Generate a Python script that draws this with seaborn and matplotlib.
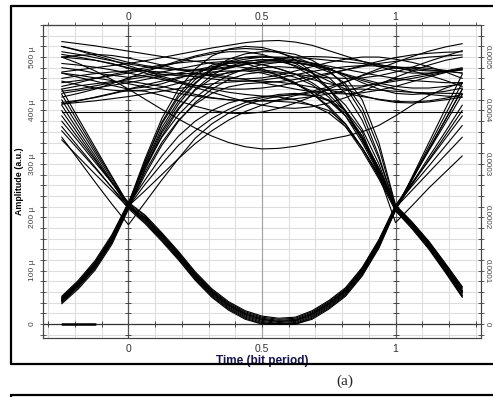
import numpy as np
import pandas as pd
import matplotlib
matplotlib.use("Agg")
import matplotlib.pyplot as plt
import seaborn as sns
from matplotlib.lines import Line2D

# sample times (bit periods), one value every 1/16 bit, shared by every trace
time_bits = [-0.25, -0.1875, -0.125, -0.0625, 0, 0.0625, 0.125, 0.1875, 0.25,
             0.3125, 0.375, 0.4375, 0.5, 0.5625, 0.625, 0.6875, 0.75, 0.8125,
             0.875, 0.9375, 1, 1.0625, 1.125, 1.1875, 1.25]

# amplitudes in micro a.u.
# 1 -> 0 -> 1 (lower half of the eye)
low_eye = [
    [440, 385, 331, 277, 224, 198, 165, 130, 92, 60, 36, 19, 9, 5, 7, 19, 38, 62, 100, 152, 219, 272, 325, 377, 430],
    [420, 370, 321, 271, 222, 194, 161, 126, 88, 56, 32, 15, 5, 1, 3, 15, 34, 58, 96, 148, 216, 262, 308, 354, 400],
    [400, 355, 310, 265, 220, 200, 167, 132, 94, 62, 38, 21, 11, 7, 9, 21, 40, 64, 102, 154, 214, 274, 333, 393, 452],
    [380, 342, 303, 265, 226, 202, 169, 134, 96, 64, 40, 23, 13, 9, 11, 23, 42, 66, 104, 156, 221, 259, 296, 334, 372],
    [362, 327, 292, 256, 221, 192, 159, 124, 86, 54, 30, 13, 3, 0, 1, 13, 32, 56, 94, 146, 217, 273, 328, 384, 440],
    [345, 313, 281, 250, 218, 196, 163, 128, 90, 58, 34, 17, 7, 3, 5, 17, 36, 60, 98, 150, 212, 276, 340, 404, 468],
    [430, 378, 326, 275, 223, 198, 165, 130, 92, 60, 36, 19, 9, 5, 7, 19, 38, 62, 100, 152, 218, 251, 284, 317, 350],
    [410, 362, 315, 267, 219, 190, 157, 122, 84, 52, 28, 11, 1, 0, 0, 11, 30, 54, 92, 144, 215, 264, 313, 361, 410],
    [390, 348, 307, 265, 228, 204, 171, 136, 98, 66, 42, 25, 15, 11, 13, 25, 44, 68, 106, 158, 223, 265, 306, 348, 390],
    [370, 332, 294, 256, 216, 188, 155, 120, 82, 50, 26, 9, 0, 0, 0, 9, 28, 52, 90, 142, 213, 270, 327, 383, 440],
]

# 0 -> 1 at t = 0
rise_left = [
    [45, 74, 110, 158, 222, 300, 368, 418, 452, 476, 492, 500, 502, 498, 488, 470, 442, 400, 345, 285, 218, 185, 148, 105, 60],
    [42, 71, 106, 154, 218, 280, 335, 380, 415, 440, 458, 468, 472, 470, 462, 448, 425, 390, 340, 282, 216, 182, 144, 100, 54],
    [48, 77, 114, 162, 226, 310, 385, 440, 478, 502, 515, 520, 518, 510, 495, 472, 440, 398, 345, 288, 220, 188, 152, 110, 66],
    [44, 72, 108, 156, 220, 262, 300, 335, 362, 385, 402, 415, 424, 430, 432, 428, 418, 395, 352, 292, 222, 190, 154, 112, 68],
    [50, 80, 116, 164, 224, 305, 375, 425, 458, 478, 488, 490, 486, 478, 468, 458, 450, 446, 446, 450, 455, 460, 466, 472, 478],
    [46, 75, 112, 160, 221, 285, 340, 382, 412, 432, 444, 450, 452, 454, 458, 464, 470, 476, 482, 488, 492, 496, 500, 502, 504],
    [40, 69, 104, 152, 217, 305, 378, 430, 465, 485, 492, 488, 478, 465, 450, 432, 408, 375, 330, 278, 214, 180, 142, 98, 52],
    [47, 76, 113, 161, 223, 270, 315, 352, 380, 400, 414, 422, 426, 425, 420, 410, 395, 370, 330, 280, 219, 186, 149, 106, 61],
    [43, 73, 109, 157, 219, 290, 352, 402, 440, 466, 482, 492, 495, 492, 484, 470, 455, 440, 428, 420, 415, 414, 416, 420, 425],
    [49, 78, 115, 163, 225, 298, 362, 412, 450, 478, 496, 506, 510, 510, 505, 494, 475, 445, 395, 315, 217, 184, 146, 103, 58],
    [44, 73, 109, 157, 221, 250, 280, 310, 338, 362, 382, 398, 410, 420, 428, 434, 438, 440, 440, 438, 436, 434, 433, 432, 432],
    [38, 66, 101, 149, 215, 292, 358, 405, 438, 460, 472, 476, 474, 466, 452, 432, 405, 370, 325, 272, 212, 178, 140, 96, 50],
    [52, 82, 119, 167, 228, 296, 350, 392, 424, 448, 466, 478, 486, 490, 490, 486, 478, 466, 452, 440, 432, 430, 432, 436, 442],
]

# high before t = 0, 1 -> 0 at t = 1
fall_right = [
    [480, 476, 470, 466, 462, 466, 472, 478, 484, 490, 492, 490, 486, 478, 468, 452, 430, 398, 352, 292, 218, 185, 148, 105, 60],
    [500, 497, 494, 488, 480, 474, 468, 465, 464, 466, 470, 476, 480, 482, 480, 474, 462, 432, 382, 310, 220, 187, 150, 107, 62],
    [452, 456, 460, 465, 470, 476, 482, 490, 500, 506, 510, 510, 505, 496, 482, 464, 440, 410, 365, 300, 217, 183, 146, 103, 58],
    [520, 513, 506, 498, 490, 484, 480, 476, 474, 476, 480, 486, 492, 494, 490, 484, 472, 450, 405, 330, 221, 188, 151, 108, 63],
    [440, 446, 450, 454, 455, 450, 445, 438, 430, 424, 420, 418, 418, 417, 415, 410, 400, 375, 330, 275, 219, 186, 149, 106, 61],
    [470, 462, 455, 447, 440, 444, 450, 460, 470, 480, 490, 496, 500, 498, 495, 488, 480, 462, 420, 340, 223, 191, 155, 113, 70],
    [412, 418, 425, 432, 440, 448, 455, 462, 468, 472, 474, 474, 470, 462, 450, 436, 418, 390, 348, 288, 216, 181, 143, 99, 53],
]

# 1 -> 1 -> 1 (upper rail)
high = [
    [529, 525, 521, 516, 511, 506, 501, 496, 492, 488, 484, 480, 476, 472, 468, 464, 461, 460, 461, 465, 472, 481, 492, 502, 512],
    [472, 476, 480, 484, 488, 493, 499, 505, 511, 517, 522, 527, 530, 531, 528, 522, 512, 502, 492, 482, 474, 470, 470, 474, 480],
    [432, 437, 442, 447, 452, 458, 464, 470, 476, 482, 488, 492, 495, 495, 493, 489, 483, 477, 471, 465, 460, 456, 454, 452, 452],
    [398, 398, 398, 398, 398, 398, 398, 398, 398, 398, 398, 398, 398, 398, 398, 398, 398, 398, 398, 398, 398, 398, 398, 398, 398],
    [412, 415, 418, 422, 426, 431, 436, 441, 446, 450, 453, 455, 455, 453, 449, 444, 438, 432, 426, 421, 417, 416, 418, 423, 430],
    [505, 500, 494, 487, 479, 470, 461, 452, 443, 434, 425, 417, 410, 405, 404, 407, 414, 424, 436, 449, 462, 474, 485, 494, 500],
    [445, 452, 460, 467, 474, 480, 485, 489, 492, 495, 497, 499, 500, 500, 499, 497, 494, 491, 488, 485, 482, 479, 476, 473, 470],
    [520, 512, 503, 494, 484, 474, 464, 455, 447, 440, 434, 430, 427, 427, 430, 436, 444, 454, 466, 478, 490, 501, 511, 519, 525],
    [460, 465, 469, 472, 474, 474, 472, 468, 463, 459, 456, 455, 457, 461, 467, 473, 478, 482, 484, 483, 480, 474, 466, 456, 445],
    [488, 485, 481, 476, 470, 464, 458, 452, 447, 443, 440, 440, 442, 446, 452, 460, 468, 476, 484, 492, 499, 504, 507, 509, 510],
    [425, 432, 440, 450, 461, 472, 483, 493, 502, 509, 514, 516, 514, 508, 499, 488, 477, 466, 456, 447, 440, 434, 430, 427, 425],
    [500, 503, 505, 503, 498, 492, 485, 477, 470, 464, 460, 459, 461, 466, 474, 482, 490, 496, 500, 500, 496, 490, 482, 472, 460],
    [415, 419, 424, 431, 438, 436, 428, 418, 408, 400, 395, 394, 397, 404, 414, 426, 440, 453, 465, 474, 480, 481, 479, 475, 470],
    [500, 488, 474, 458, 440, 421, 402, 384, 367, 352, 340, 332, 328, 329, 333, 339, 346, 352, 360, 372, 390, 410, 428, 442, 452],
    [455, 448, 442, 438, 436, 438, 443, 451, 460, 470, 479, 486, 490, 491, 489, 484, 477, 468, 459, 451, 445, 442, 442, 445, 450],
    [510, 505, 499, 493, 487, 482, 478, 476, 476, 478, 482, 487, 492, 497, 500, 501, 500, 497, 492, 486, 480, 476, 474, 474, 476],
    [470, 466, 461, 456, 450, 444, 438, 432, 427, 423, 420, 418, 418, 419, 422, 426, 431, 437, 444, 451, 458, 464, 469, 473, 476],
    [436, 440, 446, 452, 458, 463, 467, 469, 469, 467, 463, 458, 452, 446, 440, 435, 432, 431, 433, 438, 445, 454, 463, 471, 478],
]

# trace dipping under both crossings
glitch = [
    [350, 308, 266, 225, 186, 228, 270, 310, 348, 375, 395, 410, 420, 427, 430, 428, 420, 400, 360, 280, 190, 222, 255, 285, 315],
]

# 0 -> 0 level, seen only at the left edge
zero_times = [-0.25, -0.125]
zero_amp = [0, 0]

groups = low_eye + rise_left + fall_right + high + glitch
rows = []
for k, trace in enumerate(groups):
    for t, v in zip(time_bits, trace):
        rows.append({"trace": k, "t": t, "amp": v})
df = pd.DataFrame(rows)
df_zero = pd.DataFrame({"t": zero_times, "amp": zero_amp})

sns.set_style("white")
plt.rcParams["font.family"] = ["Liberation Sans", "DejaVu Sans"]

fig = plt.figure(figsize=(4.93, 3.97), dpi=100)
W, H = 493, 397
ax = fig.add_axes([43 / W, 1 - 338 / H, 438 / W, 313 / H])

x_minor = np.round(np.arange(-0.3, 1.31, 0.1), 2)
y_minor = np.arange(-20, 561, 20)
y_major = np.arange(0, 501, 100)

ax.set_xlim(-0.32, 1.32)
ax.set_ylim(-26, 560)
ax.set_xticks([0, 0.5, 1])
ax.set_xticklabels(["0", "0.5", "1"])
ax.set_xticks(x_minor, minor=True)
ax.set_yticks(y_major)
ax.set_yticklabels(["0"] + [f"{v} µ" for v in y_major[1:]], rotation=90, va="center")
ax.set_yticks(y_minor, minor=True)
ax.grid(True, which="both", color="#dedede", lw=0.8)
ax.set_axisbelow(True)

ax.axvline(0, color="#555555", lw=0.9, zorder=1)
ax.axvline(1, color="#666666", lw=0.9, zorder=1)
ax.axvline(0.5, color="#a0a0a0", lw=0.8, zorder=1)
ax.axhline(0, color="#333333", lw=0.9, zorder=1)
# small tick marks along the inner axes lines
for xc in (0, 1):
    ax.plot(np.full(len(y_minor), xc), y_minor, ls="none", marker="_", ms=4,
            mew=0.7, color="#444444", zorder=1)
ax.plot(x_minor, np.zeros(len(x_minor)), ls="none", marker="|", ms=4,
        mew=0.7, color="#444444", zorder=1)

sns.lineplot(data=df, x="t", y="amp", units="trace", estimator=None,
             color="black", lw=0.8, ax=ax, legend=False, sort=False)
sns.lineplot(data=df_zero, x="t", y="amp", estimator=None, color="black",
             lw=1.8, ax=ax, legend=False)

ax.set_xlabel("Time (bit period)", fontsize=8.5, fontweight="bold",
              color="#141450", labelpad=1)
ax.set_ylabel("")
fig.text(20 / W, 1 - 181 / H, "Amplitude (a.u.)", rotation=90, fontsize=6.4,
         fontweight="bold", ha="center", va="center", color="black")

ax.tick_params(axis="x", which="both", direction="inout", length=4, width=0.6,
               color="#444444", labelsize=7.5, labelcolor="#333333", pad=2)
ax.tick_params(axis="y", which="both", direction="inout", length=4, width=0.6,
               color="#444444", labelsize=6, labelcolor="#444444", pad=3)

top = ax.secondary_xaxis("top")
top.set_xticks([0, 0.5, 1])
top.set_xticklabels(["0", "0.5", "1"])
top.set_xticks(x_minor, minor=True)
top.tick_params(axis="x", which="both", direction="inout", length=4, width=0.6,
                color="#444444", labelsize=7.5, labelcolor="#333333", pad=0.5)

twin = ax.twinx()
twin.set_ylim(ax.get_ylim())
twin.set_yticks(y_major)
twin.set_yticklabels(["0"] + [f"{v / 1e6:.4f}" for v in y_major[1:]],
                     rotation=270, va="center")
twin.set_yticks(y_minor, minor=True)
twin.tick_params(axis="y", which="both", direction="inout", length=4, width=0.6,
                 color="#444444", labelsize=5.8, labelcolor="#444444", pad=0)

for a in (ax, twin, top):
    for s in a.spines.values():
        s.set_color("#444444")
        s.set_linewidth(0.8)
for a in (ax, twin):
    a.spines["bottom"].set_linestyle((0, (1, 1)))
    a.spines["right"].set_linestyle((0, (1, 1)))

# outer frame and caption
frame = dict(color="black", lw=1.6, transform=fig.transFigure)
fig.add_artist(Line2D([11 / W, 1.0], [1 - 6 / H, 1 - 6 / H], **frame))
fig.add_artist(Line2D([11 / W, 11 / W], [1 - 6 / H, 1 - 364 / H], **frame))
fig.add_artist(Line2D([11 / W, 1.0], [1 - 364 / H, 1 - 364 / H], **frame))
fig.add_artist(Line2D([11 / W, 1.0], [1 - 395 / H, 1 - 395 / H], **frame))
fig.add_artist(Line2D([11 / W, 11 / W], [1 - 395 / H, 0.0], **frame))
fig.text(345 / W, 1 - 381 / H, "(a)", fontsize=11, ha="center", va="center",
         family=["Liberation Serif", "DejaVu Serif"])

fig.savefig("out.png", dpi=100)
